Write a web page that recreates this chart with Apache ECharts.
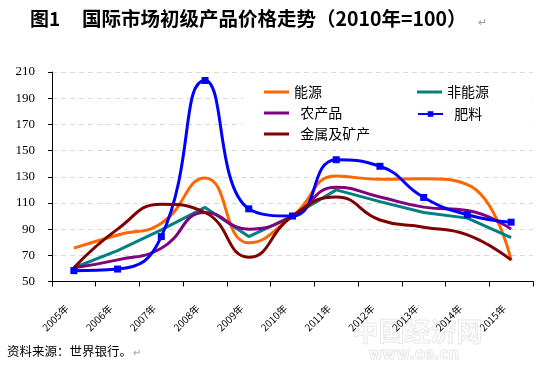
<!DOCTYPE html>
<html>
<head>
<meta charset="utf-8">
<script src="https://cdn.jsdelivr.net/npm/echarts@6/dist/echarts.min.js"></script>
<style>
html,body{margin:0;padding:0;background:#fff;}
#chart{width:538px;height:366px;}
</style>
</head>
<body>
<div id="chart"></div>
<script>
const categories = ['2005年','2006年','2007年','2008年','2009年','2010年','2011年','2012年','2013年','2014年','2015年'];
const energy      = [75.5, 85.5, 94.5, 129, 79.5, 100, 130.5, 128, 128.5, 124, 66];
const nonEnergy   = [60.5, 73.6, 89.4, 106.6, 84.3, 100, 120, 111, 102.7, 98.4, 83.5];
const agriculture = [60.5, 66.5, 75.4, 102.7, 90, 100, 122, 114.5, 106.8, 104.2, 90];
const fertilizer  = [58.3, 59.5, 84.3, 203.5, 105.5, 100, 143, 138, 114.2, 101, 95.3];
const metals      = [60.5, 90, 109, 102.7, 68.5, 100, 114.5, 97, 91.5, 85.6, 66.5];
const yTicks = {min: 50, max: 210, interval: 20};

const chart = echarts.init(document.getElementById('chart'), null, {renderer: 'canvas'});
const cjk = '"Noto Sans CJK SC", sans-serif';
const padNames = {'农产品': '  ', '金属及矿产': '  ', '肥料': '  '};
const legendCommon = {
  orient: 'vertical', itemWidth: 25, itemHeight: 3, itemGap: 7,
  textStyle: {fontFamily: cjk, fontSize: 14, lineHeight: 14, color: '#000'},
  formatter: n => (padNames[n] || '') + n,
  selectedMode: false
};
function line(name, data, color, smooth, extra) {
  return Object.assign({
    name, type: 'line', data, smooth,
    symbol: 'none', lineStyle: {color, width: 3}, itemStyle: {color},
    animation: false
  }, extra || {});
}
chart.setOption({
  animation: false,
  grid: {left: 52, right: 5, top: 72, bottom: 84.5},
  legend: [
    Object.assign({}, legendCommon, {left: 259, top: 80, icon: 'rect', data: ['能源','农产品','金属及矿产']}),
    Object.assign({}, legendCommon, {left: 412, top: 80, icon: 'rect', data: ['非能源']}),
    Object.assign({}, legendCommon, {left: 412, top: 102, itemHeight: 7, data: ['肥料']})
  ],
  xAxis: {
    type: 'category', data: categories, boundaryGap: true,
    axisLine: {lineStyle: {color: '#000', width: 1}},
    axisTick: {show: true, length: 5, lineStyle: {color: '#000'}},
    axisLabel: {rotate: 45, fontSize: 10, color: '#000', margin: 18, padding: [0, 10, 0, 0], fontFamily: cjk, interval: 0}
  },
  yAxis: {
    type: 'value', min: yTicks.min, max: yTicks.max, interval: yTicks.interval,
    axisLine: {show: true, lineStyle: {color: '#000', width: 1}},
    axisTick: {show: true, length: 4, lineStyle: {color: '#000'}},
    axisLabel: {fontFamily: '"Liberation Serif", serif', fontSize: 13, color: '#000', margin: 17},
    splitLine: {show: true, lineStyle: {color: '#d9d9d9', type: [5, 4], width: 1}}
  },
  graphic: [
    {type: 'rect', z: 1, shape: {x: 243, y: 79, width: 289, height: 61}, style: {fill: '#fff'}},
    {type: 'text', left: 30, top: 9, style: {text: '图1', font: 'bold 19px ' + cjk, fill: '#000'}},
    {type: 'text', left: 82, top: 9, style: {text: '国际市场初级产品价格走势（2010年=100）', font: 'bold 19.5px ' + cjk, fill: '#000'}},
    {type: 'text', left: 478, top: 16, style: {text: '↵', font: '11px ' + cjk, fill: '#9a9a9a'}},
    {type: 'text', left: 7, top: 345, style: {text: '资料来源：世界银行。', font: '12.5px ' + cjk, fill: '#000'}},
    {type: 'text', left: 133, top: 347, style: {text: '↵', font: '10px ' + cjk, fill: '#9a9a9a'}},
    {type: 'text', left: 352, top: 318, z: 0, style: {text: '中国经济网', font: 'bold 26px ' + cjk, fill: 'rgba(255,255,255,0)', stroke: '#e8e8e8', lineWidth: 1}},
    {type: 'text', left: 368, top: 347, z: 0, style: {text: 'www.ce.cn', font: 'bold 15px "DejaVu Sans", sans-serif', fill: 'rgba(255,255,255,0)', stroke: '#e8e8e8', lineWidth: 1}}
  ],
  series: [
    line('能源', energy, '#FF6600', 0.5),
    line('非能源', nonEnergy, '#008080', false),
    line('农产品', agriculture, '#800080', 0.5),
    line('肥料', fertilizer, '#0000FF', 0.5, {symbol: 'rect', symbolSize: 7, showSymbol: true}),
    line('金属及矿产', metals, '#800000', 0.5)
  ]
});
</script>
</body>
</html>
